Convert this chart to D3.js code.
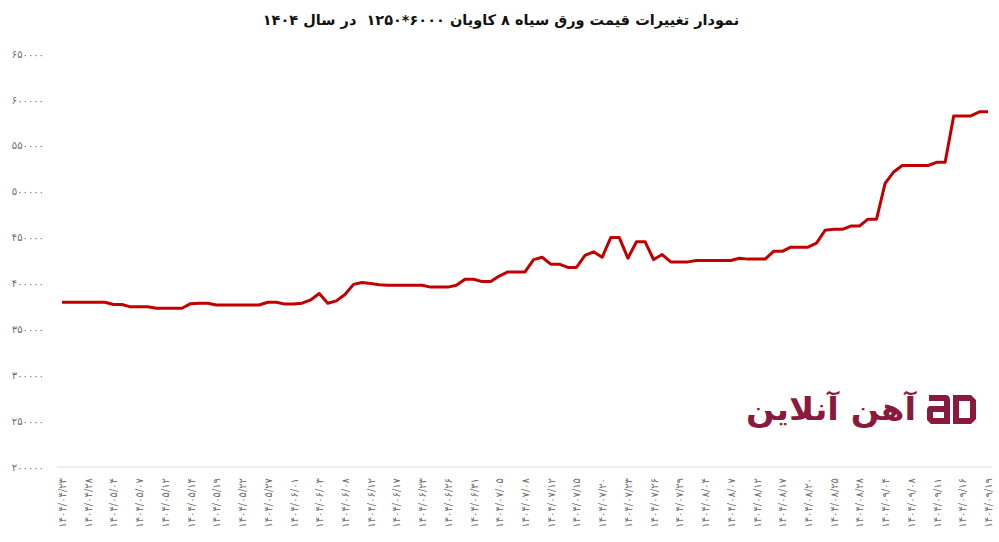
<!DOCTYPE html>
<html>
<head>
<meta charset="utf-8">
<script src="https://cdn.jsdelivr.net/npm/d3@7"></script>
<style>
  html, body { margin: 0; padding: 0; background: #fff; }
  svg { display: block; }
  .pre { white-space: pre; }
</style>
</head>
<body>
<svg id="chart" width="999" height="542"></svg>
<script>
const titleText = "نمودار تغییرات قیمت ورق سیاه ۸ کاویان ۶۰۰۰*۱۲۵۰  در سال ۱۴۰۴";
const logoText = "آهن آنلاین";

const tickLabels = ["۱۴۰۴/۰۴/۲۳", "۱۴۰۴/۰۴/۲۸", "۱۴۰۴/۰۵/۰۴", "۱۴۰۴/۰۵/۰۷", "۱۴۰۴/۰۵/۱۲", "۱۴۰۴/۰۵/۱۴", "۱۴۰۴/۰۵/۱۹", "۱۴۰۴/۰۵/۲۲", "۱۴۰۴/۰۵/۲۷", "۱۴۰۴/۰۶/۰۱", "۱۴۰۴/۰۶/۰۳", "۱۴۰۴/۰۶/۰۸", "۱۴۰۴/۰۶/۱۲", "۱۴۰۴/۰۶/۱۷", "۱۴۰۴/۰۶/۲۳", "۱۴۰۴/۰۶/۲۶", "۱۴۰۴/۰۶/۳۱", "۱۴۰۴/۰۷/۰۵", "۱۴۰۴/۰۷/۰۸", "۱۴۰۴/۰۷/۱۲", "۱۴۰۴/۰۷/۱۵", "۱۴۰۴/۰۷/۲۰", "۱۴۰۴/۰۷/۲۳", "۱۴۰۴/۰۷/۲۶", "۱۴۰۴/۰۷/۲۹", "۱۴۰۴/۰۸/۰۴", "۱۴۰۴/۰۸/۰۷", "۱۴۰۴/۰۸/۱۲", "۱۴۰۴/۰۸/۱۷", "۱۴۰۴/۰۸/۲۰", "۱۴۰۴/۰۸/۲۵", "۱۴۰۴/۰۸/۲۸", "۱۴۰۴/۰۹/۰۴", "۱۴۰۴/۰۹/۰۸", "۱۴۰۴/۰۹/۱۱", "۱۴۰۴/۰۹/۱۶", "۱۴۰۴/۰۹/۱۹"];

const yTicks = [200000, 250000, 300000, 350000, 400000, 450000, 500000, 550000, 600000, 650000];

// one value per trading day; a date label sits on every third point
const prices = [
  379500, 379500, 379500, 379500, 379500, 379500, 377000, 377000, 374500, 374500,
  374500, 373000, 373000, 373000, 373000, 378000, 378500, 378500, 376500, 376500,
  376500, 376500, 376500, 376500, 379500, 379500, 377500, 377500, 378500, 382000,
  389000, 378500, 381000, 388000, 399000, 401000, 400000, 398500, 398000, 398000,
  398000, 398000, 398000, 396000, 396000, 396000, 398000, 404500, 404500, 402000,
  402000, 408000, 412500, 412500, 412500, 426000, 428500, 421000, 421000, 417500,
  417500, 430500, 434500, 428500, 450000, 450000, 427500, 445500, 445500, 426000,
  431500, 423500, 423500, 423500, 425000, 425000, 425000, 425000, 425000, 427500,
  426500, 426500, 426500, 435000, 435000, 439500, 439500, 439500, 444000, 458000,
  459000, 459000, 462500, 462500, 470000, 470000, 509000, 521500, 528500, 528500,
  528500, 528500, 532000, 532000, 582500, 582500, 582500, 587000, 587000
];
const labelEvery = 3;

const faDigits = "۰۱۲۳۴۵۶۷۸۹";
const toFa = s => String(s).replace(/[0-9]/g, d => faDigits[+d]);

const svg = d3.select("#chart");
const W = 999, H = 542;
const margin = {left: 62, right: 11, top: 54, bottom: 75};

const x = d3.scaleLinear().domain([0, prices.length - 1]).range([margin.left, W - margin.right]);
const y = d3.scaleLinear().domain([200000, 650000]).range([H - margin.bottom, margin.top]);

// title
svg.append("text")
  .attr("class", "pre")
  .attr("x", 501).attr("y", 25)
  .attr("text-anchor", "middle")
  .attr("direction", "rtl")
  .attr("font-family", "DejaVu Sans")
  .attr("font-weight", "bold")
  .attr("font-size", 14.5)
  .attr("fill", "#111")
  .text(titleText);

// y axis (labels only)
const yAxis = d3.axisLeft(y).tickValues(yTicks).tickSize(0).tickPadding(0)
  .tickFormat(d => toFa(d));
svg.append("g")
  .attr("transform", `translate(44,0)`)
  .call(yAxis)
  .call(g => g.select(".domain").remove())
  .call(g => g.selectAll("text")
    .attr("font-family", "DejaVu Sans")
    .attr("font-size", 10)
    .attr("fill", "#6e6e6e"));

// baseline
svg.append("line")
  .attr("x1", 57).attr("x2", 992)
  .attr("y1", y(200000)).attr("y2", y(200000))
  .attr("stroke", "#d9d9d9").attr("stroke-width", 1);

// x axis
const tickIdx = tickLabels.map((_, i) => i * labelEvery);
const xAxis = d3.axisBottom(x).tickValues(tickIdx).tickSize(0).tickPadding(0)
  .tickFormat((d, i) => tickLabels[i]);
svg.append("g")
  .attr("transform", `translate(0,${y(200000) + 11})`)
  .call(xAxis)
  .call(g => g.select(".domain").remove())
  .call(g => g.selectAll("text")
    .attr("font-family", "DejaVu Sans")
    .attr("font-size", 10)
    .attr("fill", "#6e6e6e")
    .attr("text-anchor", "end")
    .attr("dy", "0.35em")
    .attr("transform", "rotate(-90)")
    .attr("x", 0).attr("y", 0));

// watermark logo
const logo = svg.append("g").attr("transform", "translate(927,395)");
logo.append("path")
  .attr("fill", "#8a1a3c").attr("fill-rule", "evenodd")
  .attr("d", "M2,0 H18 Q23,0 23,5 V29 H4 L0,25 V15 Q0,11 4,11 H17 V6 H2 Z M6,17 H17 V23 H6 Z");
logo.append("path")
  .attr("fill", "#8a1a3c").attr("fill-rule", "evenodd")
  .attr("d", "M26,0 H44 L49,5 V24 L44,29 H26 Z M32,6 H43 V23 H32 Z");
svg.append("text")
  .attr("x", 916).attr("y", 420)
  .attr("text-anchor", "start")
  .attr("direction", "rtl")
  .attr("font-family", "DejaVu Sans")
  .attr("font-weight", "bold")
  .attr("font-size", 31)
  .attr("textLength", 170)
  .attr("lengthAdjust", "spacingAndGlyphs")
  .attr("fill", "#8a1a3c")
  .text(logoText);

// price line
const line = d3.line().x((d, i) => x(i)).y(d => y(d));
svg.append("path")
  .datum(prices)
  .attr("fill", "none")
  .attr("stroke", "#c00000")
  .attr("stroke-width", 3)
  .attr("stroke-linejoin", "round")
  .attr("d", line);
</script>
</body>
</html>
